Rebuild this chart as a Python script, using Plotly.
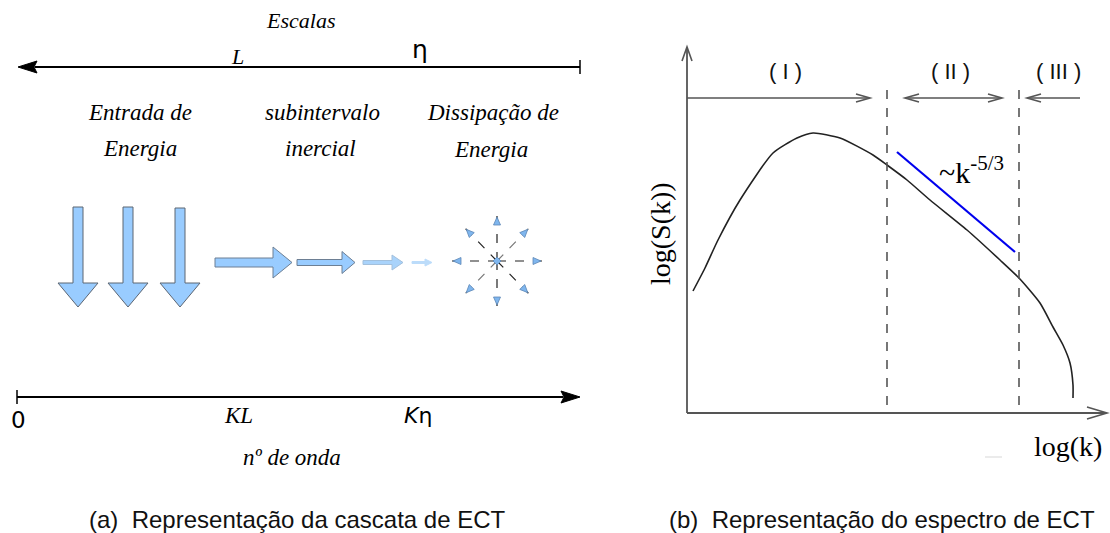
import plotly.graph_objects as go

W, H = 1110, 533

# ---------------- data (canvas pixel units) ----------------
# spectrum curve log(S(k)) vs log(k)
curve_x = [693, 705, 718, 740, 773, 797, 813, 840, 873, 887, 907, 930, 967, 1000, 1019, 1040, 1053, 1063, 1070, 1073, 1073]
curve_y = [291, 268, 240, 200, 153, 138, 133, 138, 155, 165, 180, 200, 230, 260, 278, 303, 327, 345, 363, 385, 398]
# k^-5/3 reference line
slope_x = [897, 1015]
slope_y = [152, 252]
# region boundaries (dashed)
boundary_x = [887, 1019]
region_labels = ["( I )", "( II )", "( III )"]
region_label_x = [785, 950, 1058]

# cascade panel
down_arrow_cx = [78, 128, 180]
down_arrow_top = [207, 207, 208]
right_arrow_x0 = [215, 297, 363, 412]
right_arrow_head = [273, 342, 392, 425]
right_arrow_tip = [292, 355, 403, 432]
right_arrow_shaft = [4.5, 3.0, 2.0, 1.0]
right_arrow_hh = [15.5, 11.0, 7.5, 3.5]
right_arrow_fill = ["#99ccff", "#99ccff", "#a9d3fb", "#bcdcfa"]
right_arrow_line = ["#6d7f94", "#6d7f94", "#a3c0dc", "#bcdcfa"]
star_dirs = [(1, 0), (-1, 0), (0, 1), (0, -1), (0.7, 0.72), (-0.7, -0.72), (0.7, -0.72), (-0.7, 0.72)]

fig = go.Figure()
shapes = []
ann = []


def line(x0, y0, x1, y1, color="#000", width=1.5, dash=None):
    d = dict(type="line", x0=x0, y0=y0, x1=x1, y1=y1, xref="x", yref="y",
             line=dict(color=color, width=width))
    if dash:
        d["line"]["dash"] = dash
    shapes.append(d)


def path(p, fill=None, color="#000", width=1.0):
    d = dict(type="path", path=p, xref="x", yref="y", line=dict(color=color, width=width))
    if fill:
        d["fillcolor"] = fill
    shapes.append(d)


def text(x, y, s, size=18, family="Liberation Serif", color="#000", angle=0, xanchor="center"):
    ann.append(dict(x=x, y=y, xref="x", yref="y", text=s, showarrow=False,
                    font=dict(size=size, family=family, color=color), textangle=angle,
                    xanchor=xanchor, yanchor="middle"))


def open_head(tx, ty, dx, dy, length, half, color, width):
    px, py = -dy, dx
    bx, by = tx - dx * length, ty - dy * length
    p = f"M {bx + px * half},{by + py * half} L {tx},{ty} L {bx - px * half},{by - py * half}"
    path(p, color=color, width=width)


# ---------------- left panel: cascade ----------------
line(35, 67, 580, 67, "#000", 2)
path("M 18,67 L 37,61 L 34,67 L 37,73 Z", fill="#000", color="#000", width=1)
line(580, 60, 580, 74, "#000", 1.5)
line(17, 397, 563, 397, "#000", 2)
path("M 580,397 L 561,391 L 564,397 L 561,403 Z", fill="#000", color="#000", width=1)
line(17, 390, 17, 404, "#000", 1.5)

SER = "Liberation Serif"
text(300, 20, "<i>Escalas</i>", 22, SER)
text(237, 56, "<i>L</i>", 22, SER)
text(420, 49, "η", 25, "DejaVu Sans")
text(140, 112, "<i>Entrada de</i>", 23, SER)
text(140, 148, "<i>Energia</i>", 23, SER)
text(322, 112, "<i>subintervalo</i>", 23, SER)
text(320, 148, "<i>inercial</i>", 23, SER)
text(493, 112, "<i>Dissipação de</i>", 23, SER)
text(491, 149, "<i>Energia</i>", 23, SER)
text(18, 420, "0", 23, "DejaVu Sans")
text(238, 415, "<i>KL</i>", 23, SER)
text(418, 415, "<i>K</i>η", 22, "DejaVu Sans")
text(292, 457, "<i>nº de onda</i>", 23, SER)

# down arrows (energy input)
for cx, top in zip(down_arrow_cx, down_arrow_top):
    sw, hw, hy, ty = 5, 20, 283, 307
    p = (f"M {cx - sw},{top} L {cx + sw},{top} L {cx + sw},{hy} L {cx + hw},{hy} "
         f"L {cx},{ty} L {cx - hw},{hy} L {cx - sw},{hy} Z")
    path(p, fill="#99ccff", color="#5c6673", width=1)

# cascade arrows
for x0, hx, tx, sh, hh, fc, lc in zip(right_arrow_x0, right_arrow_head, right_arrow_tip,
                                      right_arrow_shaft, right_arrow_hh, right_arrow_fill, right_arrow_line):
    yc = 262.5
    p = (f"M {x0},{yc - sh} L {hx},{yc - sh} L {hx},{yc - hh} L {tx},{yc} L {hx},{yc + hh} "
         f"L {hx},{yc + sh} L {x0},{yc + sh} Z")
    path(p, fill=fc, color=lc, width=1)

# dissipation star
scx, scy, R = 497, 261, 46
for dx, dy in star_dirs:
    diag_light = (dx * dy < 0)
    col = "#777" if diag_light else "#222"
    line(scx, scy, scx + dx * R, scy + dy * R, col, 1.2, "dash")
    n = (dx * dx + dy * dy) ** 0.5
    ux, uy = dx / n, dy / n
    tx, ty = scx + dx * R - ux * 2, scy + dy * R - uy * 2
    bx, by = tx - ux * 8, ty - uy * 8
    px, py = -uy, ux
    p = f"M {tx},{ty} L {bx + px * 3.5},{by + py * 3.5} L {bx - px * 3.5},{by - py * 3.5} Z"
    path(p, fill="#7fb6ee", color="#5d87b5", width=0.8)
path(f"M {scx-4},{scy} L {scx},{scy-4} L {scx+4},{scy} L {scx},{scy+4} Z", fill="#7fb6ee", color="#5d87b5", width=0.8)

# ---------------- right panel: spectrum ----------------
AX = "#555"
line(687, 48, 687, 413, AX, 1.8)
open_head(687, 47, 0, -1, 14, 5, AX, 1.6)
line(687, 413, 1106, 413, AX, 1.8)
open_head(1107, 413, 1, 0, 20, 6, AX, 1.6)

for bx in boundary_x:
    line(bx, 90, bx, 413, AX, 1.6, "dash")

line(687, 98, 869, 98, AX, 1.6)
open_head(870, 98, 1, 0, 14, 4, AX, 1.6)
line(906, 98, 1001, 98, AX, 1.6)
open_head(905, 98, -1, 0, 14, 4, AX, 1.6)
open_head(1002, 98, 1, 0, 14, 4, AX, 1.6)
line(1028, 98, 1080, 98, AX, 1.6)
open_head(1027, 98, -1, 0, 14, 4, AX, 1.6)

for lab, lx in zip(region_labels, region_label_x):
    text(lx, 71, lab, 22, "Liberation Sans", "#111")

fig.add_trace(go.Scatter(x=curve_x, y=curve_y, mode="lines",
                         line=dict(color="#222", width=1.6, shape="spline", smoothing=0.6),
                         hoverinfo="skip", showlegend=False))
fig.add_trace(go.Scatter(x=slope_x, y=slope_y, mode="lines",
                         line=dict(color="#0000ee", width=2.2),
                         hoverinfo="skip", showlegend=False))

ann.append(dict(x=971, y=170, xref="x", yref="y", showarrow=False,
                text="~k<sup>-5/3</sup>", font=dict(size=30, family=SER, color="#000"),
                xanchor="center", yanchor="middle"))
text(660, 234, "log(S(k))", 28, SER, angle=-90)
text(1068, 446, "log(k)", 28, SER)
line(985, 457, 1002, 457, "#e4e4e4", 1.5)

# captions
text(297, 519, "(a)  Representação da cascata de ECT", 24, "Liberation Sans", "#111")
text(882, 519, "(b)  Representação do espectro de ECT", 24, "Liberation Sans", "#111")

fig.update_layout(
    width=W, height=H, margin=dict(l=0, r=0, t=0, b=0),
    paper_bgcolor="white", plot_bgcolor="white",
    xaxis=dict(range=[0, W], visible=False, fixedrange=True),
    yaxis=dict(range=[H, 0], visible=False, fixedrange=True),
    shapes=shapes, annotations=ann, showlegend=False,
)
fig.write_html("out.html")
